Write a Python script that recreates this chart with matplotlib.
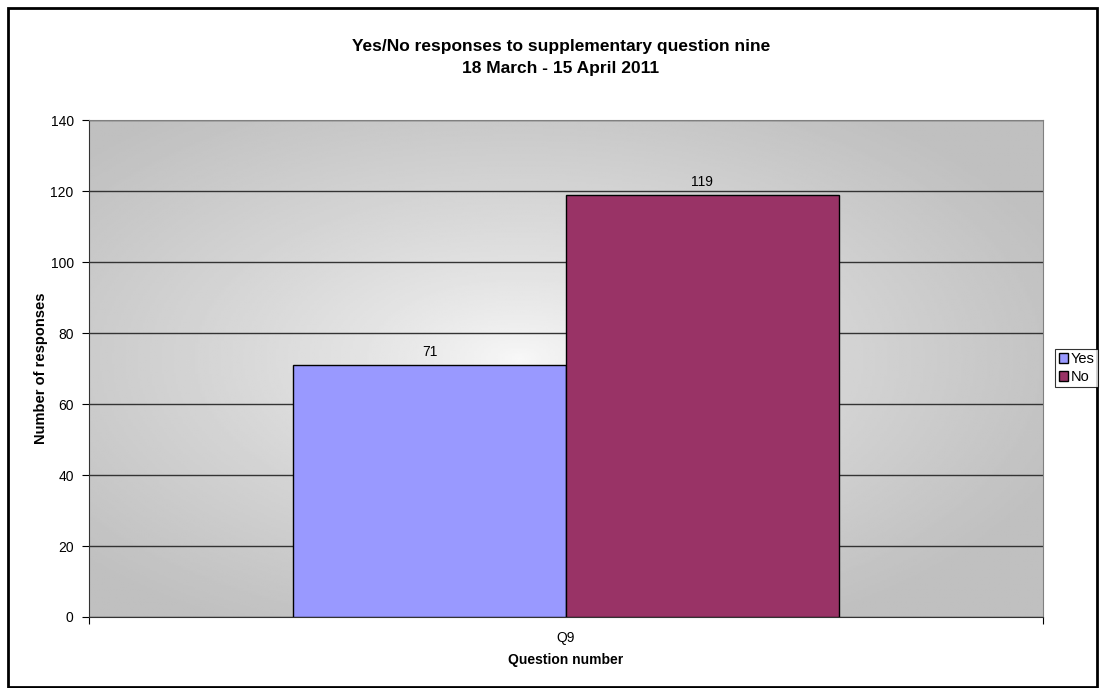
import numpy as np
import matplotlib.pyplot as plt
from matplotlib.patches import Rectangle

plt.rcParams['font.family'] = ['Liberation Sans', 'DejaVu Sans']

categories = ['Q9']
series = ['Yes', 'No']
values = [71, 119]
colors = ['#9999FF', '#993366']

W, H = 1104, 688
fig = plt.figure(figsize=(W / 100, H / 100), dpi=100)
fig.patches.append(Rectangle((8 / W, 1 / H), 1089 / W, 679 / H, transform=fig.transFigure,
                             fill=False, edgecolor='black', linewidth=2))

# plot area in pixels: x 89..1043, y 120..617 (from top)
ax = fig.add_axes([89 / W, 1 - 617 / H, (1043 - 89) / W, (617 - 120) / H])

# radial gradient background, light in the middle
gx, gy = np.meshgrid(np.linspace(0, 1, 400), np.linspace(0, 1, 300))
r = np.sqrt(((gx - 0.45) / 0.62) ** 2 + ((gy - 0.52) / 0.62) ** 2)
r = np.clip(r, 0, 1)
shade = 0.975 - (0.975 - 0.75) * r ** 0.75
ax.imshow(shade, cmap='gray', vmin=0, vmax=1, extent=(-0.5, 0.5, 0, 140),
          aspect='auto', zorder=0, origin='lower')

bw = 0.286
offs = [-bw / 2, bw / 2]
for s, v, c, o in zip(series, values, colors, offs):
    ax.bar(o, v, width=bw, color=c, edgecolor='black', linewidth=1, label=s, zorder=3)
    ax.text(o, v + 1.6, str(v), ha='center', va='bottom', fontsize=10, zorder=4)

ax.set_xlim(-0.5, 0.5)
ax.set_ylim(0, 140)
ax.set_yticks(range(0, 141, 20))
ax.yaxis.grid(True, color='#333333', linewidth=1)
for gl in ax.get_ygridlines():
    gl.set_zorder(1)

ax.set_xticks([-0.5, 0.5])
ax.set_xticklabels(['', ''])
ax.set_xticks([0], minor=True)
ax.set_xticklabels(categories, minor=True, fontsize=10)
ax.tick_params(axis='x', which='minor', length=0, pad=10)
ax.tick_params(axis='x', which='major', length=5, color='black')
ax.tick_params(axis='y', length=5, labelsize=10, color='black', pad=6)

for side in ['top', 'right']:
    ax.spines[side].set_color('#808080')
ax.spines['left'].set_color('#333333')
ax.spines['bottom'].set_color('#333333')

ax.set_ylabel('Number of responses', fontsize=10.5, fontweight='bold', labelpad=2)
ax.set_xlabel('Question number', fontsize=10, fontweight='bold', labelpad=6)

fig.text(561 / W, 1 - 47 / H, 'Yes/No responses to supplementary question nine',
         ha='center', va='center', fontsize=12.5, fontweight='bold')
fig.text(561 / W, 1 - 69 / H, '18 March - 15 April 2011',
         ha='center', va='center', fontsize=12.5, fontweight='bold')

leg = fig.legend(loc='center left', bbox_to_anchor=(1055 / W, 1 - 368 / H),
                 fontsize=10.5, frameon=True, fancybox=False, edgecolor='black',
                 handlelength=0.65, handleheight=0.65, handletextpad=0.15,
                 borderpad=0.25, labelspacing=0.25, borderaxespad=0)
leg.get_frame().set_linewidth(0.8)

fig.savefig('out.png', dpi=100)
